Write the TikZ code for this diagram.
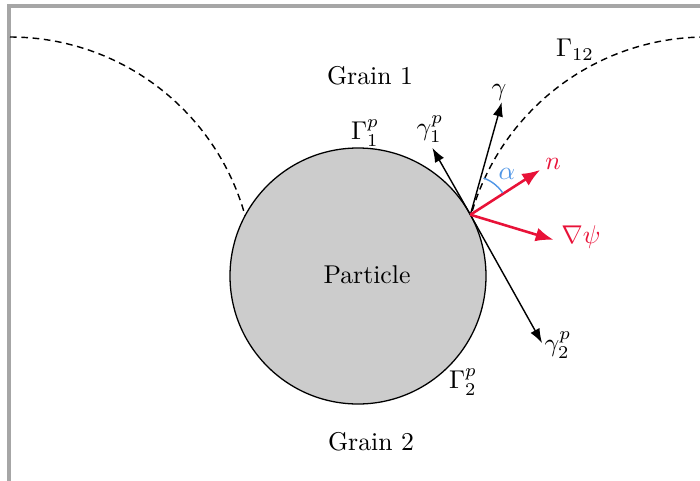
\documentclass[tikz,border=0pt]{standalone}
\usepackage{amsmath,amssymb}
\usetikzlibrary{arrows,arrows.meta,positioning,calc}
\definecolor{vecred}{RGB}{232,18,56}
\definecolor{angblue}{RGB}{80,150,230}

\begin{document}
\begin{tikzpicture}[x=0.389pt,y=0.389pt,
boundary/.style={dash pattern=on 2.6pt off 1.8pt,line width=0.55pt},
vec/.style={-{Latex[length=5.6pt,width=4pt]},line width=0.55pt},
redvec/.style={-{Latex[length=7pt,width=5.4pt]},vecred,line width=1pt}]
\clip (0,0) rectangle (700,480);
\draw[gray!70,line width=1.2pt] (9,-20) rectangle (720,474);
% grain boundaries
\draw[boundary] (10,443) arc[start angle=90,end angle=15,radius=244];
\draw[boundary] (706,443) arc[start angle=90,end angle=165,radius=244];
% particle
\draw[fill=gray!40,line width=0.5pt] (358,204) coordinate (C) circle[radius=128];
\coordinate (P) at ($(C)+(28.6:128)$);
\coordinate (g) at ($(P)+(74.4:117)$);
\coordinate (g1) at ($(P)+(119.6:77)$);
\coordinate (g2) at ($(P)+(-60.8:147)$);
\coordinate (nn) at ($(P)+(32.7:83)$);
\coordinate (gp) at ($(P)+(-16.8:87)$);
\node (grainA) at (370,404) {Grain 1};
\node (grainB) at (371,38) {Grain 2};
\node (partlbl) at (367,205) {Particle};
\node (GammaA) at (365,347) {$\Gamma_1^p$};
\node (GammaB) at (463,98) {$\Gamma_2^p$};
\node (Gamma12) at (575,430) {$\Gamma_{12}$};
\node (gammaA) at (430,351) {$\gamma_1^p$};
\node (gammaB) at (558,135) {$\gamma_2^p$};
\node (gammalbl) at (499,388) {$\gamma$};
\node[vecred] (nlbl) at (553,316) {$n$};
\node[vecred] (gradlbl) at (581,243) {$\nabla\psi$};
\node[angblue] (alphalbl) at (507,306) {$\alpha$};
% vectors at the contact point
\path[vec]
(P) edge (g) (P) edge (g1) (P) edge (g2);
\path[redvec]
(P) edge (nn) (P) edge (gp);
\draw[angblue,line width=0.55pt] ($(P)+(34:39)$) arc[start angle=34,end angle=70,radius=39];
\end{tikzpicture}
\end{document}
